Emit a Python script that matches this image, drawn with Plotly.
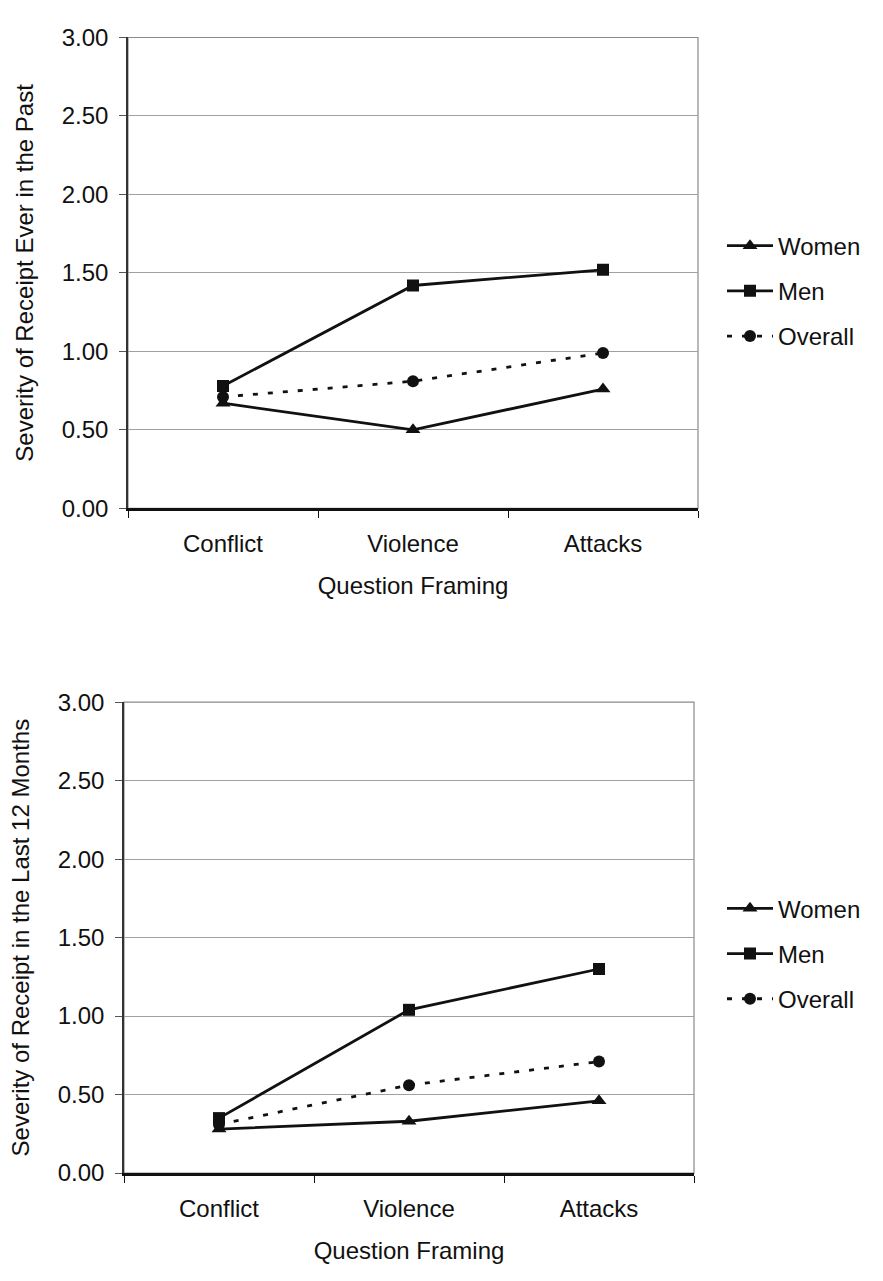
import plotly.graph_objects as go

categories = ["Conflict", "Violence", "Attacks"]
series_names = ["Women", "Men", "Overall"]
women_ever = [0.67, 0.50, 0.76]
men_ever = [0.78, 1.42, 1.52]
overall_ever = [0.71, 0.81, 0.99]
women_12m = [0.28, 0.33, 0.46]
men_12m = [0.35, 1.04, 1.30]
overall_12m = [0.31, 0.56, 0.71]
y_ticks = [0.0, 0.5, 1.0, 1.5, 2.0, 2.5, 3.0]
y_tick_labels = ["0.00", "0.50", "1.00", "1.50", "2.00", "2.50", "3.00"]
y_titles = ["Severity of Receipt Ever in the Past",
            "Severity of Receipt in the Last 12 Months"]
x_title = "Question Framing"

W, H = 883, 1281
FONT = "Liberation Sans, Arial, sans-serif"
FS = 24
INK = "#111111"

styles = [
    dict(symbol="triangle-up", size=13, dash="solid"),
    dict(symbol="square", size=12, dash="solid"),
    dict(symbol="circle", size=12, dash="5px,10px"),
]

fig = go.Figure()

panels = [
    (women_ever, men_ever, overall_ever),
    (women_12m, men_12m, overall_12m),
]
suffixes = ["", "2"]
legends = ["legend", "legend2"]

for p, data in enumerate(panels):
    for name, vals, st in zip(series_names, data, styles):
        fig.add_trace(go.Scatter(
            x=categories, y=vals, name=name, mode="lines+markers",
            xaxis="x" + suffixes[p], yaxis="y" + suffixes[p],
            legend=legends[p], legendgroup=name + str(p),
            line=dict(color=INK, width=2.8, dash=st["dash"]),
            marker=dict(symbol=st["symbol"], size=st["size"], color=INK,
                        line=dict(width=0)),
        ))

# pixel geometry of the two plot areas
areas = [
    dict(x0=128, x1=698, y0=24, y1=505),
    dict(x0=124, x1=694, y0=703, y1=1184),
]

def xd(a):
    return [a["x0"] / W, a["x1"] / W]

def yd(a):
    return [1 - a["y1"] / H, 1 - a["y0"] / H]

axis_font = dict(family=FONT, size=FS, color=INK)

layout = dict(
    width=W, height=H,
    margin=dict(l=0, r=0, t=0, b=0),
    paper_bgcolor="white", plot_bgcolor="white",
    font=axis_font,
    showlegend=True,
)

for p, a in enumerate(areas):
    sx = "xaxis" + suffixes[p]
    sy = "yaxis" + suffixes[p]
    layout[sx] = dict(
        domain=xd(a), anchor="y" + suffixes[p],
        type="category", categoryorder="array", categoryarray=categories,
        tickson="boundaries", ticks="outside", ticklen=7, tickcolor=INK,
        showline=True, linecolor=INK, linewidth=2.5,
        showgrid=False, zeroline=False,
        ticklabelstandoff=12,
        tickfont=axis_font,
        title=dict(text=x_title, font=axis_font, standoff=22),
        range=[-0.5, 2.5],
    )
    layout[sy] = dict(
        domain=yd(a), anchor="x" + suffixes[p],
        range=[0, 3], tickvals=y_ticks, ticktext=y_tick_labels,
        ticks="outside", ticklen=7, tickcolor="#555555",
        showline=True, linecolor="#333333", linewidth=1.5,
        showgrid=True, gridcolor="#a0a0a0", gridwidth=1,
        zeroline=False,
        ticklabelstandoff=6,
        tickfont=axis_font,
        title=dict(text=y_titles[p], font=axis_font, standoff=21),
    )

legend_y = [283, 960]
for p, lg in enumerate(legends):
    layout[lg] = dict(
        x=722 / W, xanchor="left",
        y=1 - legend_y[p] / H, yanchor="middle",
        font=dict(family=FONT, size=FS, color=INK),
        bgcolor="rgba(0,0,0,0)", borderwidth=0,
        itemwidth=46, tracegroupgap=11,
    )

fig.update_layout(**layout)

# gray frame on top and right of each plot area
for p, a in enumerate(areas):
    fig.add_shape(type="rect", xref="x" + suffixes[p] + " domain",
                  yref="y" + suffixes[p] + " domain",
                  x0=0, x1=1, y0=0, y1=1, layer="below",
                  line=dict(color="#8a8a8a", width=1.2))

fig.write_html("out.html")
